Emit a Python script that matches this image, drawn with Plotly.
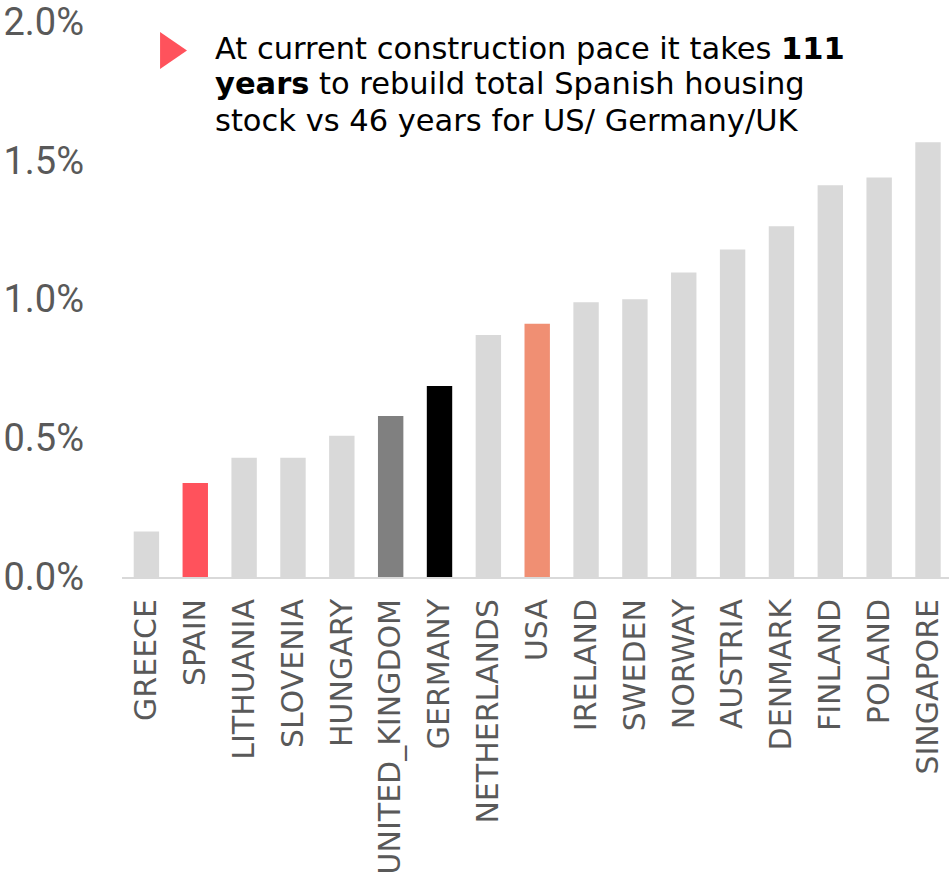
import plotly.graph_objects as go

countries = ["GREECE", "SPAIN", "LITHUANIA", "SLOVENIA", "HUNGARY", "UNITED_KINGDOM",
             "GERMANY", "NETHERLANDS", "USA", "IRELAND", "SWEDEN", "NORWAY", "AUSTRIA",
             "DENMARK", "FINLAND", "POLAND", "SINGAPORE"]
values = [0.164, 0.338, 0.429, 0.429, 0.508, 0.579, 0.687, 0.871, 0.911, 0.989,
          1.000, 1.096, 1.179, 1.262, 1.410, 1.438, 1.565]
highlight_colors = {"SPAIN": "#ff525c", "UNITED_KINGDOM": "#808080",
                    "GERMANY": "#000000", "USA": "#f08f73"}
default_color = "#d9d9d9"
y_ticks = [0.0, 0.5, 1.0, 1.5, 2.0]
y_tick_labels = ["0.0%", "0.5%", "1.0%", "1.5%", "2.0%"]
note_lines = ["At current construction pace it takes <b>111</b>",
              "<b>years</b> to rebuild total Spanish housing",
              "stock vs 46 years for US/ Germany/UK"]

colors = [highlight_colors.get(c, default_color) for c in countries]

fig = go.Figure()
fig.add_trace(go.Bar(x=countries, y=values, marker=dict(color=colors, line=dict(width=0)),
                     width=0.52, hoverinfo="x+y"))

line_y = [0.9514, 0.8867, 0.8219]
annotations = [dict(
    xref="paper", yref="paper", x=0.11, y=yy, xanchor="left", yanchor="middle",
    align="left", showarrow=False, text=t,
    font=dict(family="DejaVu Sans", size=30.5, color="#000000"),
) for t, yy in zip(note_lines, line_y)]

fig.update_layout(
    width=949, height=878,
    margin=dict(l=122, r=0, t=21, b=301),
    plot_bgcolor="white", paper_bgcolor="white",
    showlegend=False,
    xaxis=dict(
        range=[-0.5, 16.43], automargin=False,
        showgrid=False, zeroline=False,
        showline=True, linecolor="#d9d9d9", linewidth=2,
        tickangle=-90, ticks="",
        tickfont=dict(family="DejaVu Sans", size=30, color="#595959"),
        ticklabelstandoff=8, ticklabeloverflow="allow",
    ),
    yaxis=dict(
        range=[0, 2.001], automargin=False,
        tickvals=y_ticks, ticktext=y_tick_labels,
        showgrid=False, zeroline=False, showline=False, ticks="",
        tickfont=dict(family="Roboto", size=38, color="#595959"),
        ticklabelstandoff=37, ticklabeloverflow="allow",
    ),
    shapes=[dict(type="path", xref="paper", yref="paper",
                 path="M 0.0460 0.9802 L 0.0460 0.9137 L 0.0786 0.9470 Z",
                 fillcolor="#ff525c", line=dict(width=0))],
    annotations=annotations,
)

fig.write_html("out.html", config={"displayModeBar": False},
               post_script="document.body.style.margin='0';")
